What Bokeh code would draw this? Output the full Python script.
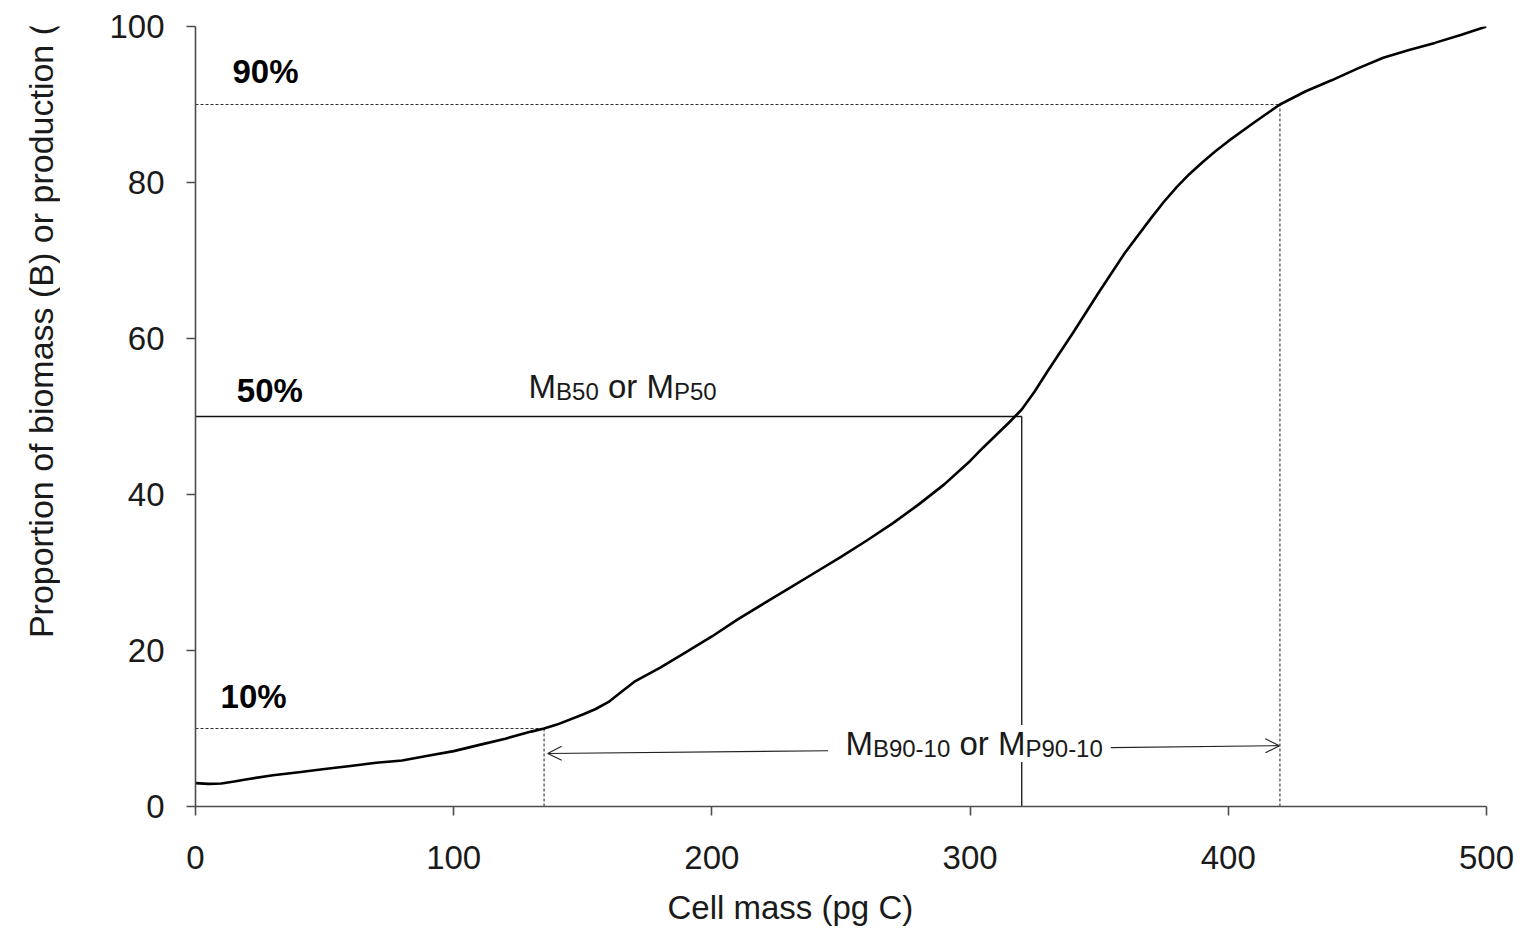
from bokeh.plotting import figure
from bokeh.layouts import row
from bokeh.models import Range1d, Label, Arrow, OpenHead, Title
from bokeh.core.properties import value
from bokeh.embed import file_html
from bokeh.resources import INLINE

# ---------------- data ----------------
cell_mass = [0, 5, 10, 15, 20, 30, 40, 50, 60, 70, 80, 90, 100, 110, 120, 130, 135,
             140, 150, 155, 160, 165, 170, 180, 190, 200, 210, 220, 230, 240, 250,
             260, 270, 280, 290, 300, 305, 310, 315, 320, 325, 330, 335, 340, 345,
             350, 360, 370, 375, 380, 385, 390, 395, 400, 410, 420, 430, 440, 450,
             460, 470, 480, 490, 500]
proportion = [3.0, 2.9, 2.95, 3.2, 3.5, 4.0, 4.4, 4.8, 5.2, 5.6, 5.9, 6.5, 7.1, 7.9,
              8.7, 9.6, 10.0, 10.5, 11.8, 12.5, 13.4, 14.7, 16.0, 17.8, 19.8, 21.8,
              24.0, 26.0, 28.0, 30.0, 32.0, 34.1, 36.3, 38.7, 41.3, 44.3, 46.0, 47.6,
              49.2, 50.9, 53.2, 55.8, 58.3, 60.8, 63.4, 66.0, 71.0, 75.4, 77.5, 79.4,
              81.1, 82.6, 84.0, 85.3, 87.7, 90.0, 91.7, 93.1, 94.6, 96.0, 97.0, 97.9,
              98.9, 100.0]
x_ticks = [0, 100, 200, 300, 400, 500]
y_ticks = [0, 20, 40, 60, 80, 100]
pct_levels = [10, 50, 90]
pct_mass = [135, 320, 420]
pct_labels = ["10%", "50%", "90%"]
x_title = "Cell mass (pg C)"
y_title = "Proportion of biomass (B) or production (P)"

FONT = "Liberation Sans"
TEXT_RAISE = 1.55  # data units
STRIP_W = 60       # width of the strip carrying the y title
H = 944

# ---------------- y-title strip ----------------
ts = figure(width=STRIP_W, height=H, output_backend="svg", toolbar_location=None,
            x_range=Range1d(0, STRIP_W), y_range=Range1d(0, H),
            x_axis_type=None, y_axis_type=None, min_border=0,
            min_border_left=0, min_border_right=0, min_border_top=0,
            min_border_bottom=0)
ts.outline_line_color = None
ts.xgrid.visible = False
ts.ygrid.visible = False
ts.background_fill_color = "white"
ts.border_fill_color = "white"
ts.text(x=[40], y=[H - 348], text=[y_title], angle=90, angle_units="deg",
        text_align="center", text_baseline="middle", text_font=value(FONT),
        text_font_size=value("34px"), text_color="#1a1a1a")

# ---------------- main chart ----------------
p = figure(width=1528 - STRIP_W, height=H, output_backend="svg",
           toolbar_location=None,
           x_range=Range1d(0, 500), y_range=Range1d(0, 100),
           min_border_left=195 - STRIP_W, min_border_right=42, min_border_top=26,
           min_border_bottom=138)
p.outline_line_color = None
p.xgrid.visible = False
p.ygrid.visible = False
p.background_fill_color = "white"
p.border_fill_color = "white"

for ax, ticks, standoff in ((p.xaxis, x_ticks, 30), (p.yaxis, y_ticks, 22)):
    ax.ticker = ticks
    ax.major_tick_out = 9
    ax.major_tick_in = 0
    ax.minor_tick_out = 0
    ax.minor_tick_in = 0
    ax.axis_line_color = "#4d4d4d"
    ax.axis_line_width = 1.6
    ax.major_tick_line_color = "#4d4d4d"
    ax.major_tick_line_width = 1.6
    ax.major_label_text_font = FONT
    ax.major_label_text_font_size = "33px"
    ax.major_label_text_color = "#1a1a1a"
    ax.major_label_standoff = standoff

# x title: side title shifted along the bottom like the reference
p.add_layout(Title(text=x_title, align="left", offset=472, standoff=30,
                   vertical_align="bottom",
                   text_font=FONT, text_font_size="33px", text_font_style="normal",
                   text_color="#1a1a1a"), "below")

# reference lines (10% and 90% dashed, 50% solid)
dash_idx = [0, 2]
p.segment(x0=[0 for i in dash_idx], y0=[pct_levels[i] for i in dash_idx],
          x1=[pct_mass[i] for i in dash_idx], y1=[pct_levels[i] for i in dash_idx],
          line_color="#333333", line_width=1.1, line_dash="3 2")
p.segment(x0=[pct_mass[i] for i in dash_idx], y0=[0 for i in dash_idx],
          x1=[pct_mass[i] for i in dash_idx], y1=[pct_levels[i] for i in dash_idx],
          line_color="#333333", line_width=1.1, line_dash="3 2")
p.segment(x0=[0, pct_mass[1]], y0=[pct_levels[1], 0],
          x1=[pct_mass[1], pct_mass[1]], y1=[pct_levels[1], pct_levels[1]],
          line_color="#111111", line_width=1.3)

# curve
p.line(cell_mass, proportion, line_color="black", line_width=2.6,
       line_join="round")

# percent labels
pct_pos = [(9.7, 12.6), (16.0, 51.8), (14.3, 92.7)]
for (lx, ly), t in zip(pct_pos, pct_labels):
    p.add_layout(Label(x=lx, y=ly + TEXT_RAISE, text=t, text_font=FONT,
                       text_font_size="33px", text_font_style="bold",
                       text_color="black", text_align="left",
                       text_baseline="alphabetic"))

# subscripted labels
W = {'M': .833, 'B': .667, 'P': .667, '0': .556, '1': .556, '5': .556, '9': .556,
     '-': .333, ' ': .278, 'o': .556, 'r': .333}


def tw(s, size):
    return sum(W[c] for c in s) * size


def sub_text(x, y, parts, bg):
    off = 0.0
    for text, is_sub in parts:
        size = 24 if is_sub else 33
        if text.strip():
            p.add_layout(Label(x=x, y=y + TEXT_RAISE, x_offset=off,
                               y_offset=-5 if is_sub else 0,
                               text=text, text_font=FONT, text_font_size=f"{size}px",
                               text_color="#1a1a1a", text_align="left",
                               text_baseline="alphabetic",
                               background_fill_color="white" if bg else None))
        off += tw(text, size)
    return off


sub_text(129, 52.3, [("M", 0), ("B50", 1), (" ", 0), ("or", 0), (" ", 0),
                     ("M", 0), ("P50", 1)], False)
sub_text(251.7, 6.54, [("M", 0), ("B90-10", 1), (" ", 0), ("or", 0), (" ", 0),
                       ("M", 0), ("P90-10", 1)], True)

# double arrow split around the text
p.add_layout(Arrow(end=OpenHead(size=14, line_width=1.1, line_color="#222222"),
                   x_start=245.0, y_start=7.15, x_end=136.4, y_end=6.8,
                   line_width=1.1, line_color="#222222"))
p.add_layout(Arrow(end=OpenHead(size=14, line_width=1.1, line_color="#222222"),
                   x_start=354.5, y_start=7.55, x_end=419.8, y_end=7.8,
                   line_width=1.1, line_color="#222222"))

layout = row(ts, p, spacing=0)
open("out.html", "w").write(file_html(layout, INLINE))
